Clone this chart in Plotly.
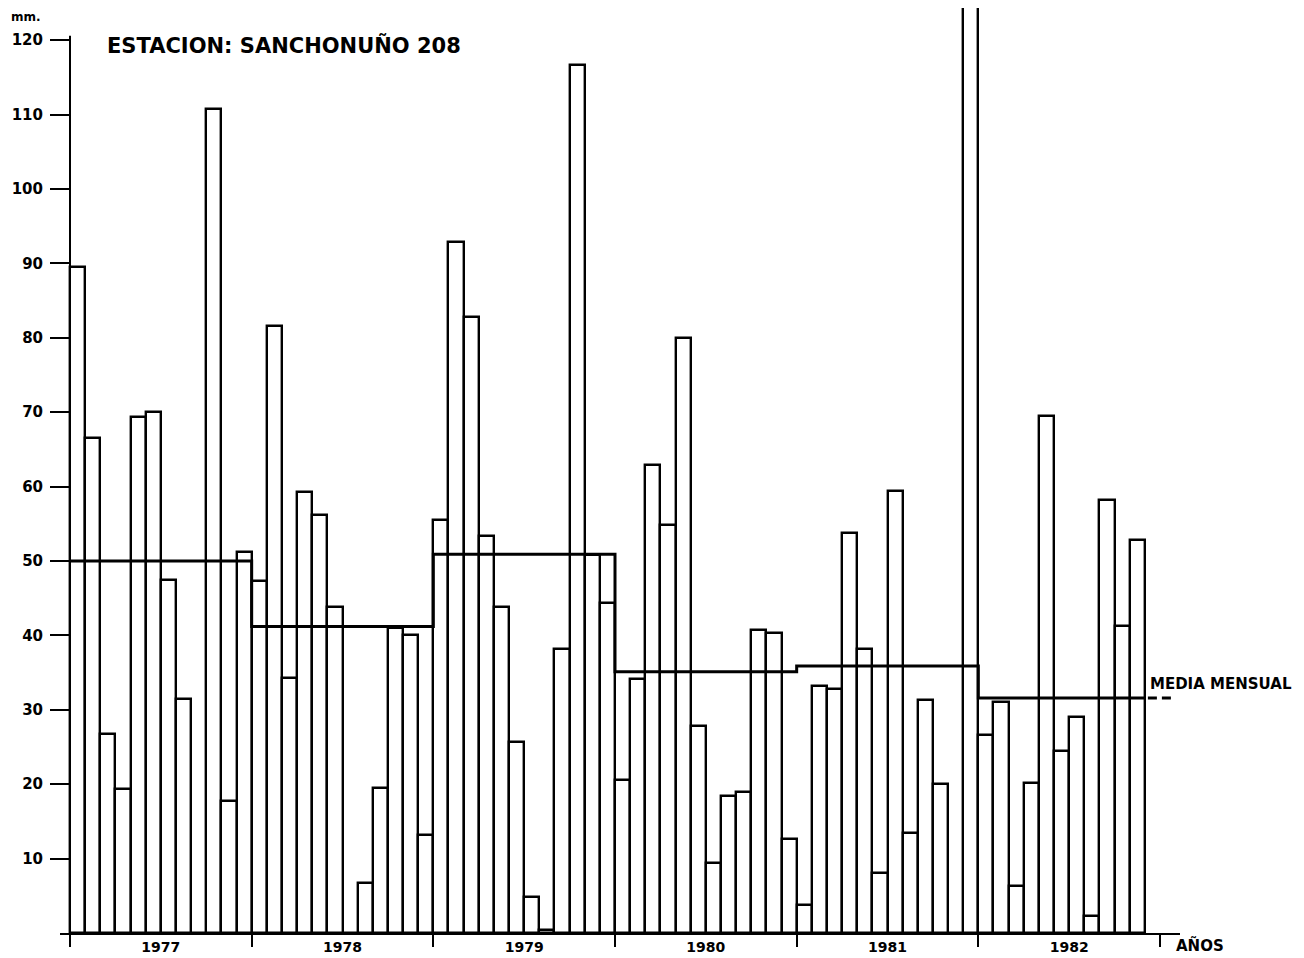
import plotly.graph_objects as go

# ---------------- data ----------------
years = ["1977", "1978", "1979", "1980", "1981", "1982"]
precip_1977 = [89.5, 66.5, 26.7, 19.4, 69.3, 70.0, 47.5, 31.5, 0.0, 110.8, 17.8, 51.2]
precip_1978 = [47.3, 81.6, 34.3, 59.3, 56.2, 43.8, 0.0, 6.7, 19.5, 41.0, 40.0, 13.2]
precip_1979 = [55.5, 92.9, 82.8, 53.3, 43.8, 25.7, 4.8, 0.4, 38.2, 116.7, 50.8, 44.3]
precip_1980 = [20.6, 34.1, 62.9, 54.8, 80.0, 27.8, 9.4, 18.4, 19.0, 40.7, 40.3, 12.6]
precip_1981 = [3.8, 33.2, 32.8, 53.8, 38.2, 8.1, 59.4, 13.4, 31.3, 20.0, 0.0, 134.0]
precip_1982 = [26.6, 31.0, 6.3, 20.1, 69.5, 24.5, 29.0, 2.3, 58.2, 41.3, 52.8, None]
monthly_mean = [50.0, 41.2, 50.9, 35.1, 35.9, 31.6]
y_ticks = [10, 20, 30, 40, 50, 60, 70, 80, 90, 100, 110, 120]

# ---------------- layout geometry ----------------
# the html page body has an 8px default margin, so the figure is drawn
# 8px smaller and every reference pixel position is shifted by -8.
OFF = 8
W, H = 1304 - OFF, 958 - OFF
L, R = 60 - OFF, 1180 - OFF      # plot area left/right (px)
T, B = 0, 933 - OFF              # plot area top/bottom (px)
X0PX = 70 - OFF                  # pixel of month 0
MONTH_PX = 1090 / 72
Y_PX_PER_UNIT = 7.44

xmin = (L - X0PX) / MONTH_PX
xmax = (R - X0PX) / MONTH_PX
ymax = (B - T) / Y_PX_PER_UNIT


def px_x(px):
    """reference pixel x -> paper x"""
    return (px - OFF - L) / (R - L)


def px_y(py):
    """reference pixel y -> paper y"""
    return (B - (py - OFF)) / (B - T)


FONT = "DejaVu Sans"

values = precip_1977 + precip_1978 + precip_1979 + precip_1980 + precip_1981 + precip_1982
months = [i + 0.5 for i in range(len(values))]
n_years = len(years)
boundaries = [12 * i for i in range(n_years + 1)]
centers = [12 * i + 6 for i in range(n_years)]

fig = go.Figure()

fig.add_trace(go.Bar(
    x=months, y=values, width=1,
    marker=dict(color="white", line=dict(color="black", width=2.4)),
    hoverinfo="skip",
))

# step line of the yearly monthly mean
mean_x = boundaries[:-1] + [boundaries[-1] - 1]
mean_y = monthly_mean + [monthly_mean[-1]]
fig.add_trace(go.Scatter(
    x=mean_x, y=mean_y, mode="lines",
    line=dict(color="black", width=3, shape="hv"),
    hoverinfo="skip",
))
fig.add_trace(go.Scatter(
    x=[boundaries[-1] - 0.8, boundaries[-1] + 0.85], y=[monthly_mean[-1]] * 2,
    mode="lines", line=dict(color="black", width=3, dash="9px,5px"),
    hoverinfo="skip",
))

# y axis line
fig.add_shape(type="line", xref="x", yref="y", x0=0, x1=0, y0=0, y1=120.6,
              line=dict(color="black", width=2))

fig.update_layout(
    width=W, height=H,
    margin=dict(l=L, r=W - R, t=T, b=H - B, autoexpand=False),
    paper_bgcolor="white", plot_bgcolor="white",
    showlegend=False, bargap=0,
    font=dict(family=FONT, color="black"),
    xaxis=dict(
        range=[xmin, xmax], automargin=False,
        showgrid=False, zeroline=False,
        showline=True, linecolor="black", linewidth=2,
        tickmode="array", tickvals=centers, ticktext=years,
        ticks="", ticklabelstandoff=0,
        tickfont=dict(family=FONT, size=14, color="black", weight="bold"),
        minor=dict(tickmode="array", tickvals=boundaries, ticks="outside",
                   ticklen=12, tickwidth=2, tickcolor="black", showgrid=False),
    ),
    yaxis=dict(
        range=[0, ymax], automargin=False,
        anchor="free", position=(X0PX - L) / (R - L),
        showgrid=False, zeroline=False, showline=False,
        tickmode="array", tickvals=y_ticks,
        ticks="outside", ticklen=20, tickwidth=2, tickcolor="black",
        ticklabelstandoff=4,
        tickfont=dict(family=FONT, size=15, color="black", weight="bold"),
    ),
)

ann_font = dict(family=FONT, color="black", weight="bold")
fig.add_annotation(xref="paper", yref="paper", x=px_x(105), y=px_y(45),
                   xanchor="left", yanchor="middle", showarrow=False,
                   text="ESTACION: SANCHONUÑO 208", font=dict(size=21, **ann_font))
fig.add_annotation(xref="paper", yref="paper", x=px_x(9), y=px_y(17),
                   xanchor="left", yanchor="middle", showarrow=False,
                   text="mm.", font=dict(size=12, **ann_font))
fig.add_annotation(xref="paper", yref="paper", x=px_x(1148), y=px_y(684),
                   xanchor="left", yanchor="middle", showarrow=False,
                   text="MEDIA MENSUAL", font=dict(size=15, **ann_font))
fig.add_annotation(xref="paper", yref="paper", x=px_x(1174), y=px_y(945),
                   xanchor="left", yanchor="middle", showarrow=False,
                   text="AÑOS", font=dict(size=15, **ann_font))

fig.write_html("out.html")
